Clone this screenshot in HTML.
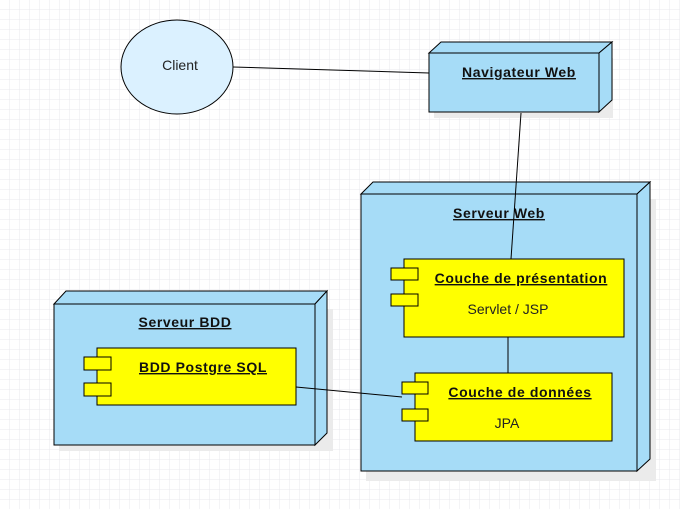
<!DOCTYPE html>
<html><head><meta charset="utf-8"><style>
html,body{margin:0;padding:0;background:#fff;}
svg{display:block;font-family:"Liberation Sans",Arial,sans-serif;}
.b{font-size:14px;font-weight:bold;text-anchor:middle;text-decoration:underline;fill:#111;letter-spacing:0.6px;}
.n{font-size:14px;text-anchor:middle;fill:#222;}
</style></head><body>
<svg width="680" height="509" viewBox="0 0 680 509" xmlns="http://www.w3.org/2000/svg">
<defs>
<pattern id="g" width="10" height="10" patternUnits="userSpaceOnUse">
<path d="M10 0V10H0" fill="none" stroke="#e8e8ee" stroke-width="1"/>
</pattern>
</defs>
<rect width="680" height="509" fill="#fff"/>
<rect width="680" height="509" fill="url(#g)"/>

<!-- Client -->
<ellipse cx="177" cy="67" rx="56" ry="47" fill="#dbf1ff" stroke="#000"/>
<text x="180" y="70" class="n">Client</text>

<!-- Navigateur -->
<rect x="434" y="58" width="179" height="60" fill="#ebebeb"/>
<polygon points="429,53 441,42 612,42 599,53" fill="#a6dcf7" stroke="#000"/>
<polygon points="599,53 612,42 612,100 599,112" fill="#a6dcf7" stroke="#000"/>
<rect x="429" y="53" width="170" height="59" fill="#a6dcf7" stroke="#000"/>
<text x="519" y="77" class="b">Navigateur Web</text>

<!-- Serveur Web -->
<rect x="366" y="199" width="290" height="282" fill="#ebebeb"/>
<polygon points="361,194 373,182 650,182 637,194" fill="#a6dcf7" stroke="#000"/>
<polygon points="637,194 650,182 650,459 637,471" fill="#a6dcf7" stroke="#000"/>
<rect x="361" y="194" width="276" height="277" fill="#a6dcf7" stroke="#000"/>
<text x="499" y="218" class="b">Serveur Web</text>

<!-- Couche presentation -->
<rect x="404" y="259" width="220" height="78" fill="#ffff00" stroke="#000"/>
<rect x="391" y="268" width="27" height="12" fill="#ffff00" stroke="#000"/>
<rect x="391" y="294" width="27" height="12" fill="#ffff00" stroke="#000"/>
<text x="521" y="283" class="b">Couche de présentation</text>
<text x="508" y="314" class="n">Servlet / JSP</text>

<!-- Couche donnees -->
<rect x="415" y="373" width="197" height="68" fill="#ffff00" stroke="#000"/>
<rect x="402" y="382" width="26" height="12" fill="#ffff00" stroke="#000"/>
<rect x="402" y="409" width="26" height="12" fill="#ffff00" stroke="#000"/>
<text x="520" y="397" class="b">Couche de données</text>
<text x="507" y="428" class="n">JPA</text>

<!-- Serveur BDD -->
<rect x="59" y="309" width="274" height="142" fill="#ebebeb"/>
<polygon points="54,304 66,291 327,291 315,304" fill="#a6dcf7" stroke="#000"/>
<polygon points="315,304 327,291 327,433 315,445" fill="#a6dcf7" stroke="#000"/>
<rect x="54" y="304" width="261" height="141" fill="#a6dcf7" stroke="#000"/>
<text x="185" y="327" class="b">Serveur BDD</text>

<rect x="97" y="348" width="199" height="57" fill="#ffff00" stroke="#000"/>
<rect x="84" y="357" width="27" height="13" fill="#ffff00" stroke="#000"/>
<rect x="84" y="383" width="27" height="13" fill="#ffff00" stroke="#000"/>
<text x="203" y="372" class="b">BDD Postgre SQL</text>

<!-- lines on top -->
<line x1="233" y1="67" x2="429" y2="73" stroke="#000"/>
<line x1="521" y1="113" x2="511" y2="259" stroke="#000"/>
<line x1="508" y1="337" x2="508" y2="373" stroke="#000"/>
<line x1="296" y1="387" x2="402" y2="397" stroke="#000"/>
</svg>
</body></html>
